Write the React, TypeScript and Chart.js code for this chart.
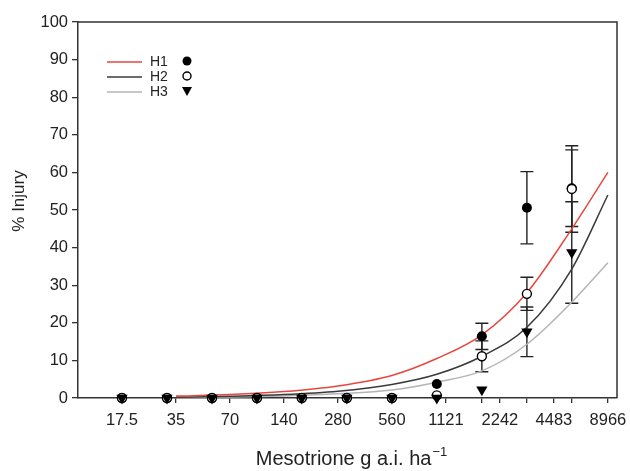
import React, { useEffect, useRef } from 'react';
import { Chart, registerables } from 'chart.js';

Chart.register(...registerables);

// ---- data ----
const doseTickLabels = ['17.5', '35', '70', '140', '280', '560', '1121', '2242', '4483', '8966'];
const doseTicks = [17.5, 35, 70, 140, 280, 560, 1121, 2242, 4483, 8966];
const yTickValues = [0, 10, 20, 30, 40, 50, 60, 70, 80, 90, 100];

const pointDoses = [17.5, 31.2, 55.6, 99, 176, 314, 560, 997, 1778, 3170, 5640];
const h1Values = [0, 0, 0, 0, 0, 0, 0, 3.7, 16.4, 50.6, 55.8];
const h1Errors = [0, 0, 0, 0, 0, 0, 0, 0, 3.5, 9.6, 10.2];
const h2Values = [0, 0, 0, 0, 0, 0, 0, 0.7, 11.1, 27.7, 55.6];
const h2Errors = [0, 0, 0, 0, 0, 0, 0, 0, 4.1, 4.4, 11.5];
const h3Values = [0, 0, 0, 0, 0, 0, 0, 0, 2.2, 17.6, 38.7];
const h3Errors = [0, 0, 0, 0, 0, 0, 0, 0, 0, 6.6, 13.5];

const curveDoses = [35, 70, 140, 280, 560, 997, 1778, 3170, 5640, 8966];
const h1Curve = [0.5, 0.9, 1.7, 3.2, 6.0, 10.5, 16.8, 28, 45, 60];
const h2Curve = [0.2, 0.45, 0.9, 1.8, 3.6, 6.3, 11.1, 18.8, 34.3, 54];
const h3Curve = [0.12, 0.27, 0.55, 1.1, 2.1, 4.2, 7.2, 14.3, 25.5, 36];

const seriesNames = ['H1', 'H2', 'H3'];
const curveColors = ['#e5483f', '#3a3a3a', '#b4b4b4'];

const FONT = "'Liberation Sans', Arial, Helvetica, sans-serif";
const INK = '#222222';

function toXY(xs: number[], ys: number[]) {
  return xs.map((x, i) => ({ x, y: ys[i] }));
}

export default function App() {
  const ref = useRef<HTMLCanvasElement>(null);

  useEffect(() => {
    const canvas = ref.current;
    if (!canvas) return;

    const errorSeries = [
      { values: h1Values, errors: h1Errors },
      { values: h2Values, errors: h2Errors },
      { values: h3Values, errors: h3Errors },
    ];

    const errorBars = {
      id: 'errorBars',
      beforeDatasetsDraw(chart: any) {
        const { ctx, scales } = chart;
        const xs = scales.x;
        const ys = scales.y;
        ctx.save();
        ctx.strokeStyle = INK;
        ctx.lineWidth = 1.4;
        errorSeries.forEach((s) => {
          s.values.forEach((v, i) => {
            const e = s.errors[i];
            if (!e) return;
            const px = xs.getPixelForValue(pointDoses[i]);
            const top = ys.getPixelForValue(v + e);
            const bot = ys.getPixelForValue(v - e);
            ctx.beginPath();
            ctx.moveTo(px, top);
            ctx.lineTo(px, bot);
            ctx.moveTo(px - 6.5, top);
            ctx.lineTo(px + 6.5, top);
            ctx.moveTo(px - 6.5, bot);
            ctx.lineTo(px + 6.5, bot);
            ctx.stroke();
          });
        });
        ctx.restore();
      },
    };

    const frame = {
      id: 'frame',
      afterDraw(chart: any) {
        const { ctx, chartArea } = chart;
        ctx.save();
        ctx.strokeStyle = '#333';
        ctx.lineWidth = 1.5;
        ctx.beginPath();
        ctx.moveTo(chartArea.left, chartArea.top);
        ctx.lineTo(chartArea.right, chartArea.top);
        ctx.lineTo(chartArea.right, chartArea.bottom);
        ctx.stroke();
        ctx.restore();
      },
    };

    const titlesAndLegend = {
      id: 'titlesAndLegend',
      afterDraw(chart: any) {
        const { ctx, chartArea } = chart;
        ctx.save();
        ctx.fillStyle = INK;
        // y title
        ctx.font = `17px ${FONT}`;
        ctx.textAlign = 'center';
        ctx.textBaseline = 'middle';
        ctx.save();
        ctx.translate(19, 201);
        ctx.rotate(-Math.PI / 2);
        ctx.fillText('% Injury', 0, 0);
        ctx.restore();

        // x title with superscript
        const main = 'Mesotrione g a.i. ha';
        const sup = '\u22121';
        ctx.font = `20px ${FONT}`;
        const wMain = ctx.measureText(main).width;
        ctx.font = `13px ${FONT}`;
        const wSup = ctx.measureText(sup).width;
        const cx = (chartArea.left + chartArea.right) / 2 + 4;
        const startX = cx - (wMain + wSup + 1) / 2;
        ctx.textAlign = 'left';
        ctx.textBaseline = 'alphabetic';
        ctx.font = `20px ${FONT}`;
        ctx.fillText(main, startX, 465);
        ctx.font = `13px ${FONT}`;
        ctx.fillText(sup, startX + wMain + 1, 456);

        // legend
        const rows = [62, 77, 92];
        ctx.font = `14px ${FONT}`;
        ctx.textBaseline = 'middle';
        rows.forEach((ry, i) => {
          ctx.strokeStyle = curveColors[i];
          ctx.lineWidth = 1.5;
          ctx.beginPath();
          ctx.moveTo(107, ry);
          ctx.lineTo(142, ry);
          ctx.stroke();
          ctx.fillStyle = INK;
          ctx.fillText(seriesNames[i], 150, ry);
          const mx = 187;
          const my = ry - 1;
          ctx.beginPath();
          if (i === 0) {
            ctx.arc(mx, my, 4.5, 0, Math.PI * 2);
            ctx.fillStyle = '#000';
            ctx.fill();
          } else if (i === 1) {
            ctx.arc(mx, my, 4, 0, Math.PI * 2);
            ctx.fillStyle = '#fff';
            ctx.fill();
            ctx.strokeStyle = '#000';
            ctx.lineWidth = 1.4;
            ctx.stroke();
          } else {
            ctx.moveTo(mx - 5, my - 4);
            ctx.lineTo(mx + 5, my - 4);
            ctx.lineTo(mx, my + 5);
            ctx.closePath();
            ctx.fillStyle = '#000';
            ctx.fill();
          }
        });
        ctx.restore();
      },
    };

    const allXTicks = Array.from(new Set([...doseTicks, ...pointDoses])).sort((a, b) => a - b);

    const pointBase = {
      type: 'scatter' as const,
      showLine: false,
      clip: false as any,
    };

    const chart = new Chart(canvas, {
      type: 'scatter',
      data: {
        datasets: [
          {
            ...pointBase,
            label: 'H1',
            data: toXY(pointDoses, h1Values),
            pointStyle: 'circle',
            pointRadius: 5,
            pointBackgroundColor: '#000',
            pointBorderColor: '#000',
            pointBorderWidth: 0,
            order: 3,
          },
          {
            ...pointBase,
            label: 'H2',
            data: toXY(pointDoses, h2Values),
            pointStyle: 'circle',
            pointRadius: 4.5,
            pointBackgroundColor: '#ffffff',
            pointBorderColor: '#000',
            pointBorderWidth: 1.4,
            order: 2,
          },
          {
            ...pointBase,
            label: 'H3',
            data: toXY(pointDoses, h3Values),
            pointStyle: 'triangle',
            pointRotation: 180,
            pointRadius: 6.5,
            pointBackgroundColor: '#000',
            pointBorderColor: '#000',
            pointBorderWidth: 0,
            order: 1,
          },
          ...[h1Curve, h2Curve, h3Curve].map((c, i) => ({
            type: 'line' as const,
            label: seriesNames[i] + ' fit',
            data: toXY(curveDoses, c),
            borderColor: curveColors[i],
            borderWidth: 1.5,
            pointRadius: 0,
            fill: false,
            cubicInterpolationMode: 'monotone' as const,
            order: 10 + i,
          })),
        ],
      },
      options: {
        responsive: false,
        animation: false,
        layout: { padding: { top: 22, right: 13, left: 0, bottom: 0 } },
        plugins: {
          legend: { display: false },
          tooltip: { enabled: false },
          title: { display: false },
        },
        scales: {
          x: {
            type: 'logarithmic',
            min: 9.95,
            max: 10080,
            afterBuildTicks: (axis: any) => {
              axis.ticks = allXTicks.map((v) => ({ value: v }));
            },
            afterFit: (scale: any) => {
              scale.height = 73;
              scale.paddingLeft = 0;
              scale.paddingRight = 0;
            },
            ticks: {
              autoSkip: false,
              maxRotation: 0,
              padding: 8,
              color: INK,
              font: { family: FONT, size: 16.5 },
              callback: (value: any) => {
                const idx = doseTicks.findIndex((d) => Math.abs(d - Number(value)) < 0.01);
                return idx >= 0 ? doseTickLabels[idx] : '';
              },
            },
            grid: {
              display: true,
              drawOnChartArea: false,
              drawTicks: true,
              tickLength: 5,
              color: '#333',
              lineWidth: 1.3,
            },
            border: { display: true, color: '#333', width: 1.5 },
          },
          y: {
            type: 'linear',
            min: 0,
            max: 100,
            afterBuildTicks: (axis: any) => {
              axis.ticks = yTickValues.map((v) => ({ value: v }));
            },
            afterFit: (scale: any) => {
              scale.width = 78;
              scale.paddingTop = 0;
              scale.paddingBottom = 0;
            },
            ticks: {
              padding: 4,
              color: INK,
              font: { family: FONT, size: 16.5 },
              callback: (value: any) => String(value),
            },
            grid: {
              display: true,
              drawOnChartArea: false,
              drawTicks: true,
              tickLength: 6,
              color: '#333',
              lineWidth: 1.3,
            },
            border: { display: true, color: '#333', width: 1.5 },
          },
        },
      },
      plugins: [errorBars, frame, titlesAndLegend],
    } as any);

    return () => chart.destroy();
  }, []);

  return (
    <canvas
      ref={ref}
      width={630}
      height={471}
      style={{ position: 'absolute', left: 0, top: 0, display: 'block', background: '#fff' }}
    />
  );
}
